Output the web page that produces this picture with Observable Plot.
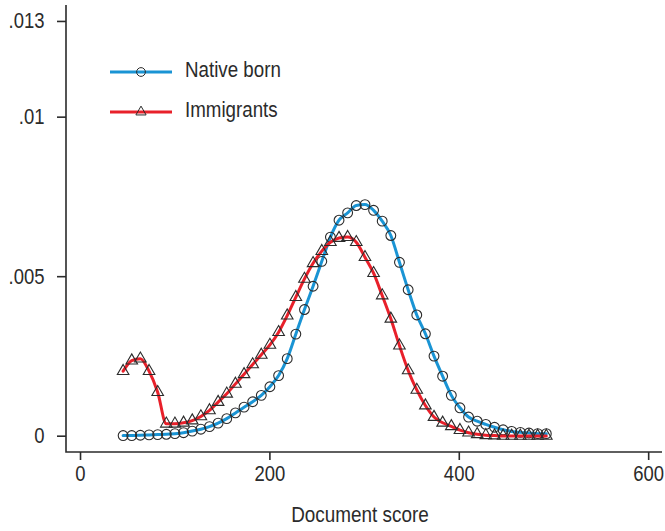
<!DOCTYPE html>
<html>
<head>
<meta charset="utf-8">
<script src="https://cdn.jsdelivr.net/npm/d3@7"></script>
<script src="https://cdn.jsdelivr.net/npm/@observablehq/plot@0.6"></script>
<style>
  html, body { margin: 0; padding: 0; background: #fff; }
  #chart { width: 665px; height: 531px; }
</style>
</head>
<body>
<div id="chart"></div>
<script>
// Document score grid (50 evaluation points)
const scores = [45, 54.1, 63.2, 72.4, 81.5, 90.6, 99.7, 108.8, 118, 127.1,
  136.2, 145.3, 154.4, 163.6, 172.7, 181.8, 190.9, 200, 209.2, 218.3,
  227.4, 236.5, 245.6, 254.8, 263.9, 273, 282.1, 291.2, 300.4, 309.5,
  318.6, 327.7, 336.8, 346, 355.1, 364.2, 373.3, 382.4, 391.6, 400.7,
  409.8, 418.9, 428, 437.2, 446.3, 455.4, 464.5, 473.6, 482.8, 491.9];

// Density, Native born
const nativeBorn = [0.00002, 0.00002, 0.00003, 0.00004, 0.00005, 0.00006, 0.00008, 0.00011, 0.00016, 0.00022,
  0.0003, 0.00041, 0.00055, 0.00073, 0.00091, 0.00108, 0.00128, 0.00155, 0.0019, 0.00243,
  0.0032, 0.00397, 0.0047, 0.00548, 0.00624, 0.00677, 0.0070, 0.00723, 0.00726, 0.00708,
  0.00674, 0.00629, 0.00545, 0.00459, 0.0038, 0.00321, 0.00251, 0.00188, 0.00128, 0.00089,
  0.0006, 0.00047, 0.00037, 0.00028, 0.0002, 0.00015, 0.00012, 0.0001, 0.00008, 0.00008];

// Density, Immigrants
const immigrants = [0.00204, 0.00237, 0.00243, 0.00204, 0.00138, 0.00039, 0.00039, 0.00042, 0.00049, 0.00062,
  0.00081, 0.00107, 0.00133, 0.00164, 0.00194, 0.00225, 0.00255, 0.00286, 0.00326, 0.00378,
  0.00436, 0.00493, 0.00542, 0.0058, 0.00608, 0.00621, 0.00624, 0.00608, 0.00561, 0.00511,
  0.00441, 0.00368, 0.00284, 0.00206, 0.00145, 0.00096, 0.0006, 0.00042, 0.00031, 0.00019,
  0.00011, 0.00006, 0.00003, 0.00002, 0.00001, 0.00001, 0.00001, 0.00001, 0.00001, 0.00001];

const seriesNames = ["Native born", "Immigrants"];
const seriesColors = ["#1a94d4", "#e8202a"];
const seriesSymbols = ["circle", "triangle"];

const xTicks = [0, 200, 400, 600];
const yTicks = [0, 0.005, 0.01, 0.013];
const yTickLabels = ["0", ".005", ".01", ".013"];
const xLabel = "Document score";

const rows = [];
scores.forEach((s, i) => {
  rows.push({score: s, density: nativeBorn[i], group: seriesNames[0]});
  rows.push({score: s, density: immigrants[i], group: seriesNames[1]});
});
const nb = rows.filter(d => d.group === seriesNames[0]);
const im = rows.filter(d => d.group === seriesNames[1]);

const font = "'Liberation Sans', Arial, sans-serif";
const ink = "#2b2b2b";

function axisLines(index, scales, values, dim) {
  const g = d3.create("svg:g");
  const x0 = dim.marginLeft, x1 = dim.width - dim.marginRight;
  const y0 = dim.marginTop, y1 = dim.height - dim.marginBottom;
  g.append("path")
    .attr("d", `M${x0},${y0}V${y1}H${x1}`)
    .attr("fill", "none").attr("stroke", ink).attr("stroke-width", 1.6);
  // x-axis title
  g.append("text")
    .attr("transform", `translate(360,521.5) scale(0.86,1)`)
    .attr("text-anchor", "middle")
    .attr("font-family", font).attr("font-size", 22).attr("fill", ink)
    .text(xLabel);
  return g.node();
}

function legend(index, scales, values, dim) {
  const g = d3.create("svg:g").attr("font-family", font);
  const lx0 = 110, lx1 = 172, mx = 141, tx = 185;
  const ys = [72, 112];
  seriesNames.forEach((name, i) => {
    const y = ys[i];
    g.append("line").attr("x1", lx0).attr("x2", lx1).attr("y1", y).attr("y2", y)
      .attr("stroke", seriesColors[i]).attr("stroke-width", 3);
    const sym = d3.symbol(i === 0 ? d3.symbolCircle : d3.symbolTriangle, i === 0 ? 60 : 45)();
    g.append("path").attr("d", sym).attr("transform", `translate(${mx},${y})`)
      .attr("fill", "none").attr("stroke", ink).attr("stroke-width", 1);
    g.append("text")
      .attr("transform", `translate(${tx},${y + 4.7}) scale(0.86,1)`)
      .attr("text-anchor", "start")
      .attr("font-size", 21.8).attr("fill", ink).text(name);
  });
  return g.node();
}

const chart = Plot.plot({
  width: 665,
  height: 531,
  marginTop: 5,
  marginLeft: 66,
  marginRight: 3,
  marginBottom: 79,
  style: {fontFamily: font, color: ink, background: "#fff"},
  x: {domain: [-14.8, 614.6]},
  y: {domain: [-0.000511, 0.0135]},
  marks: [
    Plot.axisX({ticks: xTicks, tickSize: 8, tickPadding: 5, fontSize: 21.5, label: null, stroke: ink, strokeWidth: 1.6}),
    Plot.axisY({ticks: yTicks, tickSize: 9, tickPadding: 13, fontSize: 21.5, label: null,
      tickFormat: d => yTickLabels[yTicks.indexOf(d)], stroke: ink, strokeWidth: 1.6}),
    axisLines,
    Plot.line(nb, {x: "score", y: "density", stroke: seriesColors[0], strokeWidth: 3, curve: "monotone-x"}),
    Plot.dot(nb, {x: "score", y: "density", symbol: seriesSymbols[0], r: 4.9, stroke: ink, strokeWidth: 1.1, fill: "none"}),
    Plot.line(im, {x: "score", y: "density", stroke: seriesColors[1], strokeWidth: 3, curve: "monotone-x"}),
    Plot.dot(im, {x: "score", y: "density", symbol: seriesSymbols[1], r: 4.3, stroke: ink, strokeWidth: 1.1, fill: "none"}),
    legend
  ]
});

// condense tick labels horizontally (narrow sans look)
d3.select(chart).selectAll("g[aria-label$='tick label'] text").each(function() {
  const t = this.getAttribute("transform") || "";
  this.setAttribute("transform", t + " scale(0.86,1)");
});

document.getElementById("chart").appendChild(chart);
</script>
</body>
</html>
